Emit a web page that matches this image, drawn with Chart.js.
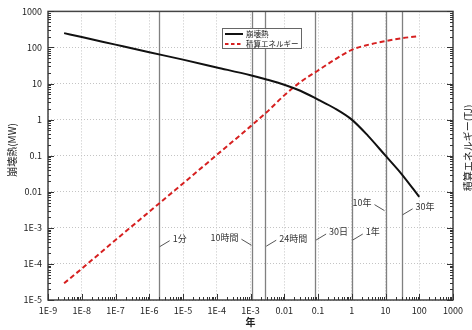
<!DOCTYPE html>
<html><head><meta charset="utf-8">
<script src="https://cdn.jsdelivr.net/npm/chart.js@4/dist/chart.umd.min.js"></script>
<style>html,body{margin:0;padding:0;background:#fff}#wrap{width:472px;height:330px;position:relative}canvas{display:block}</style>
</head><body><div id="wrap"><canvas id="c" width="472" height="330" style="width:472px;height:330px"></canvas></div>
<script>
// ---- data ----
const years = [3e-9, 1e-8, 1e-7, 1e-6, 1e-5, 1e-4, 1e-3, 0.003, 0.01, 0.03, 0.1, 0.3, 1, 3, 10, 30, 100];
const decayHeatMW = [250, 195, 120, 74, 46, 28, 17, 13, 9.3, 6.3, 3.6, 2.1, 1.0, 0.36, 0.1, 0.031, 0.0072];
const energyTJ = [2.9e-5, 7.4e-5, 4.6e-4, 2.8e-3, 0.017, 0.105, 0.65, 1.6, 4.7, 11, 23, 45, 86, 118, 150, 180, 207];
const seriesNames = ['崩壊熱', '積算エネルギー'];
const xTickValues = [1e-9,1e-8,1e-7,1e-6,1e-5,1e-4,1e-3,0.01,0.1,1,10,100,1000];
const xTickLabels = ['1E-9','1E-8','1E-7','1E-6','1E-5','1E-4','1E-3','0.01','0.1','1','10','100','1000'];
const yTickValues = [1e-5,1e-4,1e-3,0.01,0.1,1,10,100,1000];
const yTickLabels = ['1E-5','1E-4','1E-3','0.01','0.1','1','10','100','1000'];
const eventLabels = ['1分','10時間','24時間','30日','1年','10年','30年'];
const eventYears = [1/525960, 10/8766, 24/8766, 30/365.25, 1, 10, 30];
const xTitle = '年';
const yTitle = '崩壊熱(MW)';
const y2Title = '積算エネルギー(TJ)';

// ---- styles (label placement) ----
const eventLabelAt = [3.0e-4, 3.3e-4, 3.1e-4, 4.6e-4, 4.6e-4, 3.0e-3, 2.3e-3]; // y value where leader starts
const eventLabelSide = [1, -1, 1, 1, 1, -1, 1];
const FONT = "'Noto Sans CJK JP', 'Liberation Sans', sans-serif";

const logTicks = (vals) => (s) => { s.ticks = vals.map(v => ({value: v})); };

const overlay = {
  id: 'overlay',
  beforeDatasetsDraw(chart) {
    const {ctx, chartArea: a, scales: {x}} = chart;
    ctx.save();
    ctx.strokeStyle = '#808080'; ctx.lineWidth = 1.3;
    eventYears.forEach(t => {
      const px = Math.round(x.getPixelForValue(t)) + 0.5;
      ctx.beginPath(); ctx.moveTo(px, a.top); ctx.lineTo(px, a.bottom); ctx.stroke();
    });
    ctx.restore();
  },
  afterDraw(chart) {
    const {ctx, chartArea: a, scales: {x, y, y2}} = chart;
    ctx.save();
    ctx.strokeStyle = '#444'; ctx.lineWidth = 1.5;
    ctx.strokeRect(a.left, a.top, a.right - a.left, a.bottom - a.top);
    ctx.lineWidth = 1; ctx.strokeStyle = '#333';
    const decadesX = [], decadesY = [];
    for (let e = -9; e < 3; e++) decadesX.push(e);
    for (let e = -5; e < 3; e++) decadesY.push(e);
    ctx.beginPath();
    decadesX.forEach(e => {
      for (let m = 1; m <= 10; m++) {
        const px = Math.round(x.getPixelForValue(m * Math.pow(10, e))) + 0.5;
        const len = (m === 1 || m === 10) ? 6 : 3;
        ctx.moveTo(px, a.bottom); ctx.lineTo(px, a.bottom - len);
      }
    });
    decadesY.forEach(e => {
      for (let m = 1; m <= 10; m++) {
        const py = Math.round(y.getPixelForValue(m * Math.pow(10, e))) + 0.5;
        const len = (m === 1 || m === 10) ? 6 : 3;
        ctx.moveTo(a.left, py); ctx.lineTo(a.left + len, py);
        const py2 = Math.round(y2.getPixelForValue(m * Math.pow(10, e))) + 0.5;
        ctx.moveTo(a.right, py2); ctx.lineTo(a.right - len, py2);
      }
    });
    ctx.stroke();
    ctx.font = '9px ' + FONT; ctx.fillStyle = '#333'; ctx.textBaseline = 'middle';
    ctx.strokeStyle = '#555'; ctx.lineWidth = 1;
    eventYears.forEach((t, i) => {
      const px = x.getPixelForValue(t);
      const py = y.getPixelForValue(eventLabelAt[i]);
      const s = eventLabelSide[i];
      ctx.beginPath(); ctx.moveTo(px + s * 1, py); ctx.lineTo(px + s * 11, py - 6); ctx.stroke();
      ctx.textAlign = s > 0 ? 'left' : 'right';
      ctx.fillText(eventLabels[i], px + s * 14, py - 8);
    });
    // legend
    const lx = 222, ly = 28, lw = 79, lh = 20;
    ctx.fillStyle = '#fff'; ctx.fillRect(lx, ly, lw, lh);
    ctx.strokeStyle = '#666'; ctx.lineWidth = 1; ctx.strokeRect(lx + 0.5, ly + 0.5, lw, lh);
    chart.data.datasets.forEach((ds, i) => {
      const yy = ly + 6 + i * 10;
      ctx.beginPath(); ctx.strokeStyle = ds.borderColor; ctx.lineWidth = 2;
      ctx.setLineDash(ds.borderDash ? [3.5, 2.5] : []);
      ctx.moveTo(lx + 3, yy); ctx.lineTo(lx + 21, yy); ctx.stroke();
      ctx.setLineDash([]);
      ctx.fillStyle = '#222'; ctx.textAlign = 'left'; ctx.font = '7.5px ' + FONT;
      ctx.fillText(ds.label, lx + 24, yy + 0.5);
    });
    ctx.fillStyle = '#222'; ctx.textAlign = 'center'; ctx.textBaseline = 'middle';
    ctx.font = 'bold 10px ' + FONT;
    ctx.fillText(xTitle, (a.left + a.right) / 2, 322);
    ctx.font = '10px ' + FONT;
    ctx.save(); ctx.translate(12, 150); ctx.rotate(-Math.PI / 2); ctx.fillText(yTitle, 0, 0); ctx.restore();
    ctx.save(); ctx.translate(468, 148); ctx.rotate(-Math.PI / 2); ctx.fillText(y2Title, 0, 0); ctx.restore();
    ctx.restore();
  }
};

new Chart(document.getElementById('c'), {
  type: 'line',
  data: {
    labels: years,
    datasets: [
      {label: seriesNames[0], data: years.map((t, i) => ({x: t, y: decayHeatMW[i]})), yAxisID: 'y',
       borderColor: '#111', borderWidth: 2, pointRadius: 0, cubicInterpolationMode: 'monotone'},
      {label: seriesNames[1], data: years.map((t, i) => ({x: t, y: energyTJ[i]})), yAxisID: 'y2',
       borderColor: '#d62020', borderWidth: 2, borderDash: [5, 3], pointRadius: 0, cubicInterpolationMode: 'monotone'}
    ]
  },
  options: {
    responsive: false, animation: false, devicePixelRatio: 1,
    layout: {padding: {top: 7, left: 0, right: 0, bottom: 0}},
    plugins: {legend: {display: false}, tooltip: {enabled: false}},
    scales: {
      x: {type: 'logarithmic', min: 1e-9, max: 1000, afterBuildTicks: logTicks(xTickValues),
          afterFit: s => { s.height = 30; },
          ticks: {callback: (v, i) => xTickLabels[i], autoSkip: false, maxRotation: 0, padding: 5,
                  font: {size: 9, family: FONT}, color: '#222'},
          grid: {color: '#c4c4c4', drawTicks: false}, border: {display: false, dash: [1, 2]}},
      y: {type: 'logarithmic', position: 'left', min: 1e-5, max: 1000, afterBuildTicks: logTicks(yTickValues),
          afterFit: s => { s.width = 48; },
          ticks: {callback: (v, i) => yTickLabels[i], autoSkip: false, padding: 6,
                  font: {size: 9, family: FONT}, color: '#222'},
          grid: {color: '#c4c4c4', drawTicks: false}, border: {display: false, dash: [1, 2]}},
      y2: {type: 'logarithmic', position: 'right', min: 1e-5, max: 1000, afterBuildTicks: logTicks(yTickValues),
          afterFit: s => { s.width = 19; },
          ticks: {display: false}, grid: {drawOnChartArea: false, drawTicks: false}, border: {display: false}}
    }
  },
  plugins: [overlay]
});
</script>
</body></html>
